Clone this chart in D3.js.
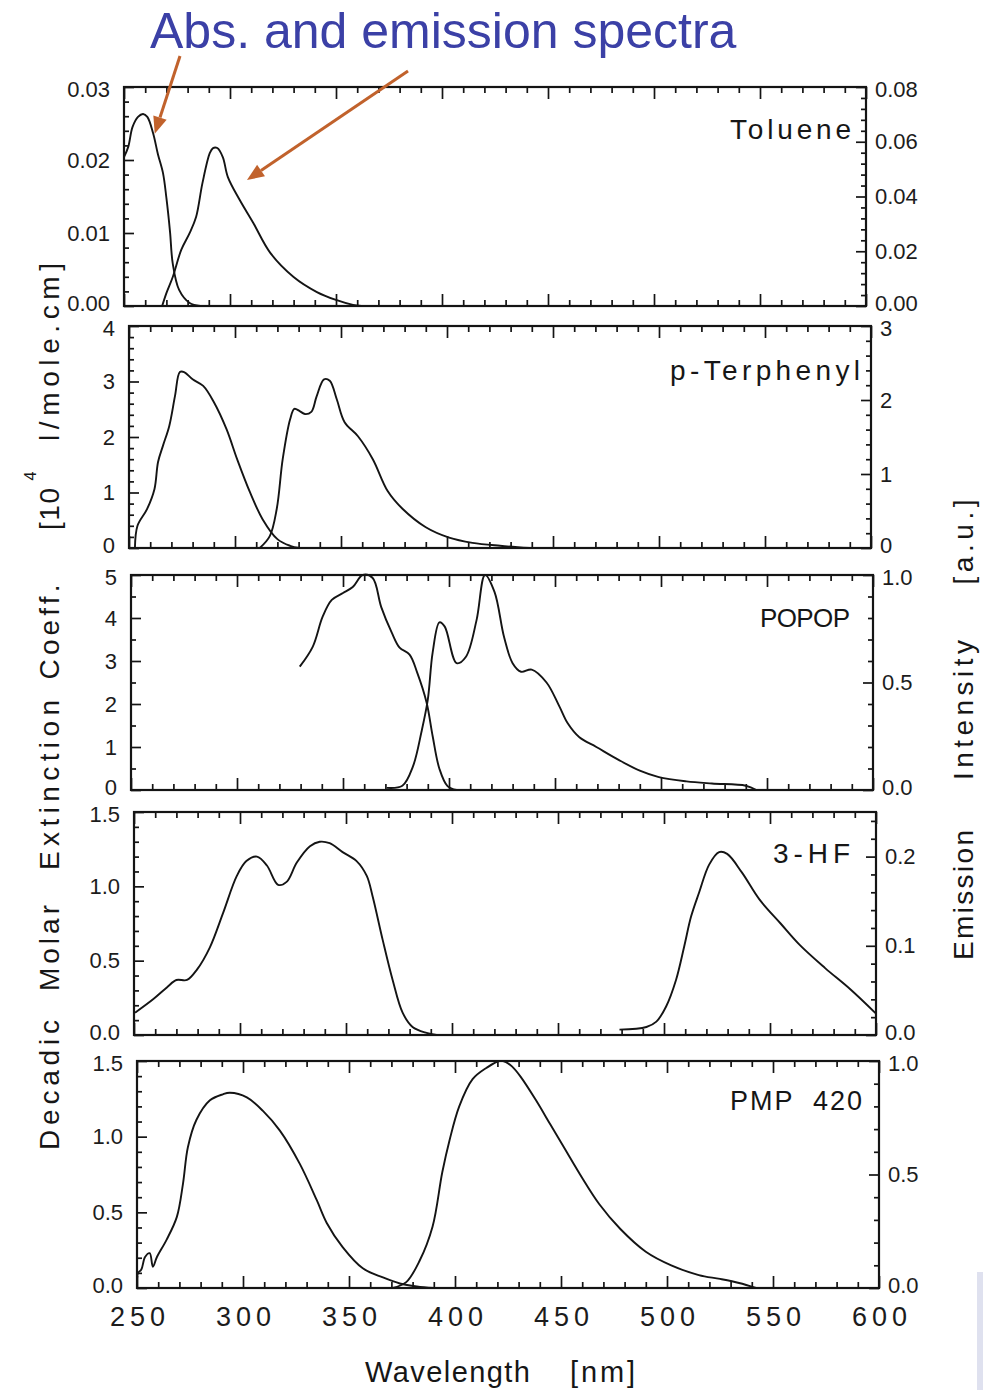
<!DOCTYPE html>
<html>
<head>
<meta charset="utf-8">
<script src="https://cdn.jsdelivr.net/npm/d3@7/dist/d3.min.js"></script>
<style>
  body { margin: 0; background: #fff; }
  svg { display: block; font-family: "Liberation Sans", Arial, Helvetica, sans-serif; }
</style>
</head>
<body>
<svg width="983" height="1390"></svg>
<script>
// ---- data: [wavelength nm, value] ----
const panelNames = ["Toluene", "p-Terphenyl", "POPOP", "3-HF", "PMP  420"];

const tolueneAbs = [[250,0.0204],[252,0.0218],[254,0.0245],[256.6,0.0259],[259,0.0263],[261,0.0259],[263.7,0.0237],[266,0.0208],[268.4,0.0182],[270,0.0148],[271.7,0.0102],[273,0.0058],[276,0.0022],[281,0.0004],[286,0]];
const tolueneEm = [[268,0],[270,0.0047],[273,0.0106],[277,0.0205],[281,0.0267],[284,0.0325],[287,0.0449],[290.5,0.0559],[292,0.0577],[294,0.0577],[296.6,0.0544],[299,0.0471],[304.6,0.0387],[311,0.0303],[319,0.0194],[330,0.0106],[341,0.0051],[350,0.0022],[358,0.0004],[362,0]];

const terphenylAbs = [[252.8,0],[254,0.40],[258.5,0.70],[262,1.06],[263.7,1.55],[266,1.84],[269,2.2],[271.7,2.74],[274,3.17],[276,3.17],[280,3.04],[285,2.92],[290,2.63],[296,2.14],[301,1.60],[307,1.01],[313,0.52],[320,0.16],[326,0.04],[330.5,0]];
const terphenylEm = [[311.7,0],[316.4,0.16],[319.7,0.53],[322.5,1.20],[326,1.74],[328,1.88],[330.5,1.85],[333,1.81],[336,1.84],[338.5,2.05],[342,2.28],[344.7,2.26],[348,2.01],[351.7,1.70],[358,1.51],[365,1.20],[372,0.77],[379,0.53],[390,0.28],[401,0.14],[412,0.07],[425,0.03],[439,0]];

const popopAbs = [[329.6,2.87],[335.7,3.33],[340.4,4.03],[344.7,4.42],[350,4.58],[354.6,4.72],[359.3,5.0],[364,4.93],[368,4.26],[373,3.66],[376.7,3.31],[381.4,3.15],[385,2.73],[389.4,2.04],[392.3,1.25],[395.5,0.49],[399.3,0.09],[403.6,0]];
const popopEm = [[370.6,0.01],[378,0.02],[383,0.11],[387,0.27],[390,0.42],[392.3,0.64],[395.5,0.78],[398,0.76],[403.6,0.59],[408,0.62],[413,0.79],[417,1.0],[421.5,0.92],[426,0.71],[430,0.59],[434,0.55],[439,0.56],[446,0.50],[452,0.39],[456,0.31],[461.5,0.245],[469.5,0.20],[480,0.14],[490,0.09],[499,0.06],[512,0.04],[524,0.03],[540,0.02],[545,0]];

const hfAbs = [[250.5,0.15],[259,0.24],[265.5,0.32],[270,0.37],[275,0.37],[279.7,0.44],[285.8,0.59],[292,0.82],[298.5,1.07],[303,1.17],[308,1.20],[312.7,1.14],[318,1.01],[322,1.03],[326.8,1.16],[333,1.27],[337.6,1.30],[342.3,1.29],[348.4,1.23],[355,1.17],[359.8,1.07],[362.6,0.93],[367.3,0.64],[372,0.37],[376.7,0.15],[381.4,0.054],[388,0.014],[392.7,0]];
const hfEm = [[479,0.006],[491.7,0.009],[496.4,0.015],[501,0.032],[505.7,0.062],[509.5,0.099],[512.8,0.133],[516.6,0.16],[521.3,0.191],[526,0.205],[529.8,0.203],[536.8,0.182],[545,0.152],[555,0.125],[564,0.101],[576,0.075],[588,0.051],[600,0.024]];

const pmpAbs = [[250,0],[250.5,0.1],[252,0.12],[253.8,0.205],[256,0.23],[257.5,0.14],[259.4,0.205],[264,0.32],[268.8,0.47],[271.7,0.69],[274,0.93],[278,1.11],[284.4,1.24],[290.5,1.28],[293.8,1.29],[301.8,1.26],[309.4,1.17],[317.4,1.04],[326.8,0.82],[334.8,0.58],[339.5,0.43],[347,0.27],[356.5,0.13],[366,0.07],[374,0.03],[382,0.01],[390,0]];
const pmpEm = [[370.6,0],[377,0.026],[383.3,0.12],[389.4,0.27],[394,0.51],[397.4,0.65],[402,0.80],[408.3,0.92],[414.9,0.97],[421,1.0],[424,0.995],[427,0.975],[431,0.93],[438,0.83],[445,0.72],[452,0.61],[459,0.50],[468,0.37],[478,0.26],[490,0.16],[502,0.10],[515,0.057],[525,0.04],[534,0.022],[542,0]];

const absSeries = [tolueneAbs, terphenylAbs, popopAbs, hfAbs, pmpAbs];
const emSeries = [tolueneEm, terphenylEm, popopEm, hfEm, pmpEm];

// axes
const wlDomain = [250, 600];
const wlTicks = [250, 300, 350, 400, 450, 500, 550, 600];
const absMax = [0.03, 4, 5, 1.5, 1.5];
const absTicks = [[0, 0.01, 0.02, 0.03], [0, 1, 2, 3, 4], [0, 1, 2, 3, 4, 5], [0, 0.5, 1, 1.5], [0, 0.5, 1, 1.5]];
const absMinor = [0.002, 0.2, 0.5, 0.1, 0.1];
const absFormat = [".2f", "d", "d", ".1f", ".1f"];
const emMax = [0.08, 3, 1.0, 0.25, 1.0];
const emTicks = [[0, 0.02, 0.04, 0.06, 0.08], [0, 1, 2, 3], [0, 0.5, 1], [0, 0.1, 0.2], [0, 0.5, 1]];
const emMinor = [0.004, 0.2, 0.1, 0.02, 0.1];
const emFormat = [".2f", "d", ".1f", ".1f", ".1f"];

// ---- layout (pixels) ----
const panelLeft = [124, 129, 131, 134, 137];
const panelTop = [87, 326, 575, 812, 1061];
const panelBottom = [306, 548, 790, 1035, 1288];
const panelW = 742;
const labelEnd = [851, 860, 850, 850, 862];
const labelBase = [139, 380, 627, 863, 1110];
const labelLen = [121, 190, 90, 77, 132];
const labelSize = [28, 28, 26, 28, 27];

const svg = d3.select("svg");
const ink = "#141414";

svg.append("rect").attr("x", 977).attr("y", 1272).attr("width", 6).attr("height", 118).attr("fill", "#dfe1ef");

function minorVals(max, step, majors) {
  return d3.range(0, max + step / 2, step).filter(v => !majors.some(m => Math.abs(m - v) < step / 10));
}

// keep stacked edge labels of neighbouring panels apart
function nudge(sel, max) {
  sel.attr("dy", d => d === 0 ? "0.2em" : (Math.abs(d - max) < 1e-9 ? "0.45em" : "0.32em"));
}

const scales = [];

panelNames.forEach((name, i) => {
  const left = panelLeft[i], right = left + panelW, top = panelTop[i], bottom = panelBottom[i];
  const x = d3.scaleLinear().domain(wlDomain).range([left, right]);
  const yA = d3.scaleLinear().domain([0, absMax[i]]).range([bottom, top]);
  const yE = d3.scaleLinear().domain([0, emMax[i]]).range([bottom, top]);
  scales.push({ x, yA, yE });

  const g = svg.append("g").attr("class", "panel");
  const xMinor = minorVals(600 - 250, 10, wlTicks.map(t => t - 250)).map(v => v + 250);

  const axes = [
    [d3.axisBottom(x).tickValues(wlTicks).tickSize(-12), `translate(0,${bottom})`],
    [d3.axisBottom(x).tickValues(xMinor).tickSize(-6), `translate(0,${bottom})`],
    [d3.axisTop(x).tickValues(wlTicks).tickSize(-12), `translate(0,${top})`],
    [d3.axisTop(x).tickValues(xMinor).tickSize(-6), `translate(0,${top})`],
    [d3.axisLeft(yA).tickValues(absTicks[i]).tickSize(-10), `translate(${left},0)`],
    [d3.axisLeft(yA).tickValues(minorVals(absMax[i], absMinor[i], absTicks[i])).tickSize(-5), `translate(${left},0)`],
    [d3.axisRight(yE).tickValues(emTicks[i]).tickSize(-10), `translate(${right},0)`],
    [d3.axisRight(yE).tickValues(minorVals(emMax[i], emMinor[i], emTicks[i])).tickSize(-5), `translate(${right},0)`]
  ];
  axes.forEach(([ax, tr]) => {
    const a = g.append("g").attr("transform", tr).call(ax.tickFormat(""));
    a.select(".domain").remove();
    a.selectAll("line").attr("stroke", ink).attr("stroke-width", 1.7);
    a.selectAll("text").remove();
  });

  // tick labels
  g.append("g").attr("transform", `translate(${left},0)`)
    .call(d3.axisLeft(yA).tickValues(absTicks[i]).tickSize(0).tickPadding(14).tickFormat(d3.format(absFormat[i])))
    .call(a => a.select(".domain").remove())
    .selectAll("text").attr("font-size", 22).attr("fill", "#1c1c1c").attr("font-family", null)
    .call(nudge, absMax[i]);
  g.append("g").attr("transform", `translate(${right},0)`)
    .call(d3.axisRight(yE).tickValues(emTicks[i]).tickSize(0).tickPadding(9).tickFormat(d3.format(emFormat[i])))
    .call(a => a.select(".domain").remove())
    .selectAll("text").attr("font-size", 22).attr("fill", "#1c1c1c").attr("font-family", null)
    .call(nudge, emMax[i]);

  if (i === panelNames.length - 1) {
    g.append("g").attr("transform", `translate(0,${bottom})`)
      .call(d3.axisBottom(x).tickValues(wlTicks).tickSize(0).tickPadding(19).tickFormat(d3.format("d")))
      .call(a => a.select(".domain").remove())
      .selectAll("text").attr("font-size", 27).attr("fill", "#1c1c1c").attr("font-family", null)
      .attr("letter-spacing", "5px").attr("dx", 2.5);
  }

  // frame
  g.append("rect").attr("x", left).attr("y", top).attr("width", panelW).attr("height", bottom - top)
    .attr("fill", "none").attr("stroke", ink).attr("stroke-width", 2.2);

  const lineA = d3.line().x(d => x(d[0])).y(d => yA(d[1])).curve(d3.curveCatmullRom.alpha(0.5));
  const lineE = d3.line().x(d => x(d[0])).y(d => yE(d[1])).curve(d3.curveCatmullRom.alpha(0.5));
  g.append("path").datum(absSeries[i]).attr("d", lineA).attr("fill", "none").attr("stroke", ink).attr("stroke-width", 1.9);
  g.append("path").datum(emSeries[i]).attr("d", lineE).attr("fill", "none").attr("stroke", ink).attr("stroke-width", 1.9);

  g.append("text").attr("x", labelEnd[i]).attr("y", labelBase[i]).attr("text-anchor", "end")
    .attr("font-size", labelSize[i]).attr("fill", "#161616").attr("xml:space", "preserve")
    .attr("textLength", labelLen[i]).attr("lengthAdjust", "spacing")
    .text(name);
});

// title
svg.append("text").attr("x", 150).attr("y", 48).attr("font-size", 50).attr("fill", "#3b40a6")
  .text("Abs. and emission spectra");

// annotation arrows
const arrowColor = "#c1622c";
const arrows = [
  { from: [180, 56], tip: [scales[0].x(264.5), scales[0].yA(0.0236)] },
  { from: [408, 71], tip: [scales[0].x(308), scales[0].yE(0.046)] }
];
arrows.forEach(a => {
  const [x0, y0] = a.from, [x1, y1] = a.tip;
  const ang = Math.atan2(y1 - y0, x1 - x0), hl = 17, hw = 7;
  const bx = x1 - hl * Math.cos(ang), by = y1 - hl * Math.sin(ang);
  svg.append("line").attr("x1", x0).attr("y1", y0).attr("x2", bx).attr("y2", by)
    .attr("stroke", arrowColor).attr("stroke-width", 3);
  svg.append("polygon").attr("fill", arrowColor).attr("points", [
    [x1, y1],
    [bx + hw * Math.sin(ang), by - hw * Math.cos(ang)],
    [bx - hw * Math.sin(ang), by + hw * Math.cos(ang)]
  ].map(p => p.join(",")).join(" "));
});

// axis titles
const leftWords = [["Decadic", 1085, 130], ["Molar", 948, 86], ["Extinction", 785, 170], ["Coeff.", 632, 95], ["[10", 509, 42], ["l/mole.cm]", 352, 178]];
leftWords.forEach(([w, cy, len]) => {
  svg.append("text").attr("transform", `translate(59,${cy}) rotate(-90)`).attr("text-anchor", "middle")
    .attr("font-size", 28).attr("fill", "#161616").attr("textLength", len).attr("lengthAdjust", "spacing").text(w);
});
svg.append("text").attr("transform", "translate(36,476) rotate(-90)").attr("text-anchor", "middle")
  .attr("font-size", 16).attr("fill", "#161616").text("4");

const rightWords = [["Emission", 895, 130], ["Intensity", 710, 140], ["[a.u.]", 542, 85]];
rightWords.forEach(([w, cy, len]) => {
  svg.append("text").attr("transform", `translate(973,${cy}) rotate(-90)`).attr("text-anchor", "middle")
    .attr("font-size", 28).attr("fill", "#161616").attr("textLength", len).attr("lengthAdjust", "spacing").text(w);
});

svg.append("text").attr("x", 365).attr("y", 1382).attr("font-size", 29).attr("fill", "#161616")
  .attr("textLength", 165).attr("lengthAdjust", "spacing").text("Wavelength");
svg.append("text").attr("x", 570).attr("y", 1382).attr("font-size", 29).attr("fill", "#161616")
  .attr("textLength", 65).attr("lengthAdjust", "spacing").text("[nm]");
</script>
</body>
</html>
